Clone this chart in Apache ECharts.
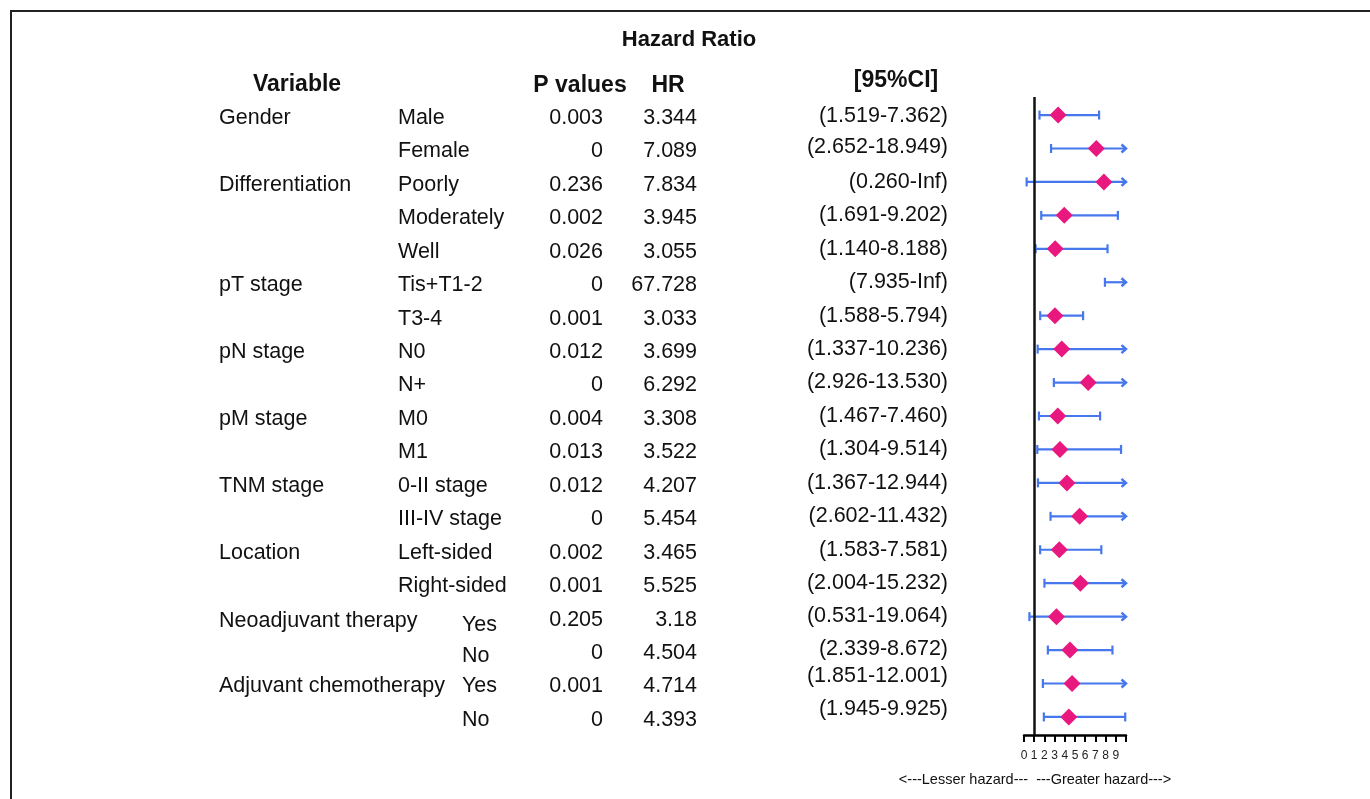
<!DOCTYPE html>
<html><head><meta charset="utf-8">
<script src="https://cdn.jsdelivr.net/npm/echarts@6/dist/echarts.min.js"></script>
<style>html,body{margin:0;padding:0;background:#fff}#c{width:1370px;height:799px}</style>
</head><body><div id="c"></div>
<script>
// ---------------- data ----------------
const groups = ['Gender','Differentiation','pT stage','pN stage','pM stage','TNM stage','Location','Neoadjuvant therapy','Adjuvant chemotherapy'];
const groupRows = [0,2,5,7,9,11,13,15,17];
const subgroups = ['Male','Female','Poorly','Moderately','Well','Tis+T1-2','T3-4','N0','N+','M0','M1','0-II stage','III-IV stage','Left-sided','Right-sided','Yes','No','Yes','No'];
const pValues = ['0.003','0','0.236','0.002','0.026','0','0.001','0.012','0','0.004','0.013','0.012','0','0.002','0.001','0.205','0','0.001','0'];
const hrValues = [3.344,7.089,7.834,3.945,3.055,67.728,3.033,3.699,6.292,3.308,3.522,4.207,5.454,3.465,5.525,3.18,4.504,4.714,4.393];
const ciLower = [1.519,2.652,0.260,1.691,1.140,7.935,1.588,1.337,2.926,1.467,1.304,1.367,2.602,1.583,2.004,0.531,2.339,1.851,1.945];
const ciUpper = [7.362,18.949,Infinity,9.202,8.188,Infinity,5.794,10.236,13.530,7.460,9.514,12.944,11.432,7.581,15.232,19.064,8.672,12.001,9.925];
const xTickLabels = [0,1,2,3,4,5,6,7,8,9];
const refLine = 1;
const axisMin = 0, axisMax = 10;
const titleText = 'Hazard Ratio';
const headers = ['Variable','P values','HR','[95%CI]'];
const footerText = '<---Lesser hazard---  ---Greater hazard--->';

// ---------------- layout / style ----------------
const FONT = "'Liberation Sans', Arial, Helvetica, sans-serif";
const PINK = '#E8187F', BLUE = '#4677EC', INK = '#111';
const Y_MIN = -0.54, Y_MAX = 18.54;
const COL = {group:219, sub:398, subWide:462, pRight:603, hrRight:697, ciRight:948};
const wideGroups = ['Neoadjuvant therapy','Adjuvant chemotherapy'];
const TXT_SHIFT = 3;
const ciShift = {0:-2,1:-4,15:-4,16:-4,17:-10,18:-11};
const subShift = {15:5, 16:3};
const headerPos = [{x:297,y:85},{x:580,y:86},{x:668,y:86},{x:896,y:81}];

const rows = subgroups.map((_, i) => i);
function groupIndexOf(row){ let g = 0; groupRows.forEach((r, k) => { if (r <= row) g = k; }); return g; }
function fmt(v){ return isFinite(v) ? v.toFixed(3) : 'Inf'; }
const ciTexts = rows.map(i => '(' + fmt(ciLower[i]) + '-' + fmt(ciUpper[i]) + ')');

const chart = echarts.init(document.getElementById('c'), null, {renderer:'canvas'});

function txt(text, x, y, align, size, weight){
  return {type:'text', style:{text:text, x:x, y:y, align:align, verticalAlign:'middle',
    fontSize:size, fontFamily:FONT, fontWeight:weight||'normal', fill:INK}};
}

const option = {
  animation:false,
  backgroundColor:'#fff',
  grid:[{left:1024, right:244, top:97, bottom:64},{left:0, right:0, top:97, bottom:64}],
  xAxis:[
    {gridIndex:0, type:'value', min:axisMin, max:axisMax, interval:1,
     axisLine:{show:true, onZero:false, lineStyle:{color:'#000', width:2.5}},
     axisTick:{show:true, inside:false, length:7, lineStyle:{color:'#000', width:2}},
     axisLabel:{show:true, fontSize:12, color:'#222', fontFamily:FONT, margin:15,
       formatter:v => xTickLabels.indexOf(v) >= 0 ? String(v) : ''},
     splitLine:{show:false}},
    {gridIndex:1, type:'value', min:0, max:1370, show:false}
  ],
  yAxis:[
    {gridIndex:0, type:'value', min:Y_MIN, max:Y_MAX, inverse:true, show:false},
    {gridIndex:1, type:'value', min:Y_MIN, max:Y_MAX, inverse:true, show:false}
  ],
  graphic:[
    {type:'rect', shape:{x:11, y:11, width:1500, height:1000}, style:{fill:null, stroke:'#222', lineWidth:2}, silent:true},
    txt(titleText, 689, 40, 'center', 22, 'bold'),
    txt(headers[0], headerPos[0].x, headerPos[0].y, 'center', 23, 'bold'),
    txt(headers[1], headerPos[1].x, headerPos[1].y, 'center', 23, 'bold'),
    txt(headers[2], headerPos[2].x, headerPos[2].y, 'center', 23, 'bold'),
    txt(headers[3], headerPos[3].x, headerPos[3].y, 'center', 23, 'bold'),
    txt(footerText, 1035, 780, 'center', 14.5, 'normal')
  ],
  series:[
    {
      type:'custom', xAxisIndex:0, yAxisIndex:0,
      data: rows.map(i => [ciLower[i], i]),
      renderItem:function(params, api){
        const i = params.dataIndex;
        const lo = ciLower[i], hi = ciUpper[i];
        const a = api.coord([Math.max(lo, axisMin), i]);
        const b = api.coord([Math.min(hi, axisMax), i]);
        const st = {stroke:BLUE, lineWidth:2.2, fill:null, lineCap:'butt'};
        const ch = [{type:'line', shape:{x1:a[0], y1:a[1], x2:b[0], y2:b[1]}, style:st}];
        if (lo >= axisMin) ch.push({type:'line', shape:{x1:a[0], y1:a[1]-4.5, x2:a[0], y2:a[1]+4.5}, style:st});
        if (hi <= axisMax) ch.push({type:'line', shape:{x1:b[0], y1:b[1]-4.5, x2:b[0], y2:b[1]+4.5}, style:st});
        else ch.push({type:'polyline', shape:{points:[[b[0]-4.5, b[1]-4],[b[0], b[1]],[b[0]-4.5, b[1]+4]]}, style:Object.assign({}, st, {lineWidth:2.5})});
        return {type:'group', children:ch};
      },
      silent:true, z:2
    },
    {
      type:'scatter', xAxisIndex:0, yAxisIndex:0,
      symbol:'diamond', symbolSize:17,
      itemStyle:{color:PINK, opacity:1},
      data: rows.filter(i => hrValues[i] <= axisMax).map(i => [hrValues[i], i]),
      markLine:{silent:true, symbol:['none','none'], label:{show:false},
        lineStyle:{color:INK, width:2.5, type:'solid'}, data:[{xAxis:refLine}]},
      z:3
    },
    {
      type:'custom', xAxisIndex:1, yAxisIndex:1,
      data: rows.map(i => [0, i]),
      renderItem:function(params, api){
        const i = params.dataIndex;
        const y = api.coord([0, i])[1] + TXT_SHIFT;
        const ch = [];
        const g = groupIndexOf(i);
        if (groupRows[g] === i) ch.push(txt(groups[g], COL.group, y + (i === 15 ? 1 : 0), 'left', 21.5));
        const sx = wideGroups.indexOf(groups[g]) >= 0 ? COL.subWide : COL.sub;
        ch.push(txt(subgroups[i], sx, y + (subShift[i] || 0), 'left', 21.5));
        ch.push(txt(pValues[i], COL.pRight, y, 'right', 21.5));
        ch.push(txt(String(hrValues[i]), COL.hrRight, y, 'right', 21.5));
        ch.push(txt(ciTexts[i], COL.ciRight, y + (ciShift[i] !== undefined ? ciShift[i] : -3), 'right', 21.5));
        return {type:'group', children:ch};
      },
      silent:true
    }
  ]
};
chart.setOption(option);
</script>
</body></html>
